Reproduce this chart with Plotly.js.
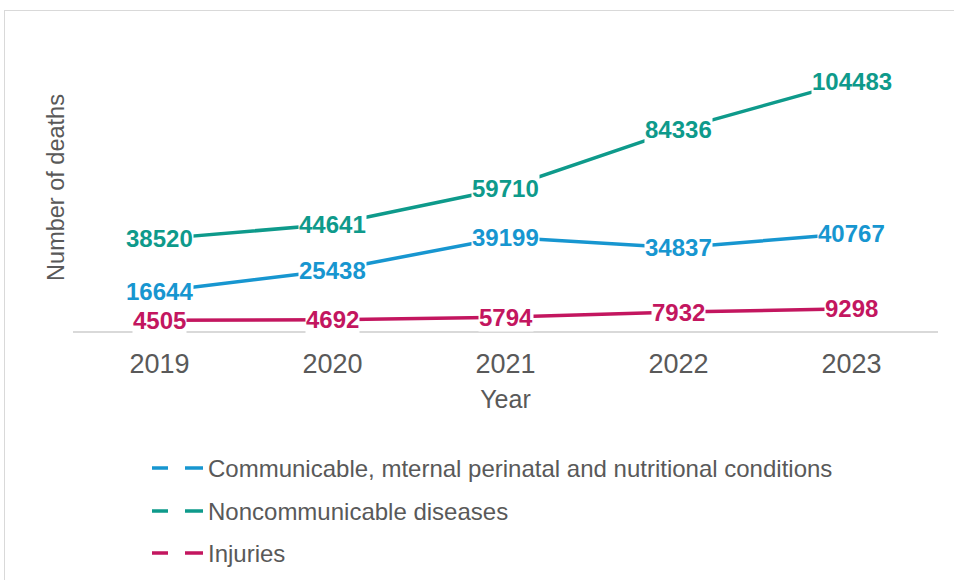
<!DOCTYPE html>
<html>
<head>
<meta charset="utf-8">
<script src="https://cdn.plot.ly/plotly-3.0.1.min.js"></script>
<style>
  html, body { margin: 0; padding: 0; background: #ffffff; overflow: hidden; }
  #chart { width: 954px; height: 580px; position: absolute; left: 0; top: 0; }
  #frame { position: absolute; left: 4px; top: 10px; width: 1000px; height: 700px;
           border: 1px solid #d9d9d9; pointer-events: none; }
  #err { position: absolute; left: 10px; top: 20px; color: red; font-size: 12px; }
</style>
</head>
<body>
<div id="chart"></div>
<div id="frame"></div>
<div id="err"></div>
<script>
// ---- data ----
const years = ['2019', '2020', '2021', '2022', '2023'];
const communicable = [16644, 25438, 39199, 34837, 40767];
const noncommunicable = [38520, 44641, 59710, 84336, 104483];
const injuries = [4505, 4692, 5794, 7932, 9298];
const seriesNames = [
  'Communicable, mternal perinatal and nutritional conditions',
  'Noncommunicable diseases',
  'Injuries'
];

// ---- styling ----
const seriesValues = [communicable, noncommunicable, injuries];
const colors = ['#1796d0', '#0e9a8b', '#c3165f'];
const font = 'Liberation Sans, Arial, sans-serif';
const grey = '#595959';
const legendKeys = ['legend', 'legend2', 'legend3'];
const legendCenters = [467, 510, 552];

try {
const traces = [];
const notes = [];
seriesValues.forEach((vals, i) => {
  traces.push({
    x: years, y: vals, type: 'scatter', mode: 'lines',
    line: { color: colors[i], width: 3.5 },
    showlegend: false, hoverinfo: 'skip'
  });
  vals.forEach((v, j) => {
    notes.push({
      x: j, y: v, xref: 'x', yref: 'y', text: '<b>' + v + '</b>',
      showarrow: false, bgcolor: '#ffffff', borderpad: 0,
      font: { family: font, size: 24, color: colors[i] }
    });
  });
});
// legend entries (dashed symbol)
seriesValues.forEach((vals, i) => {
  traces.push({
    x: [null], y: [null], type: 'scatter', mode: 'lines', name: seriesNames[i],
    legend: legendKeys[i],
    line: { color: colors[i], width: 3.5, dash: '16px,17px,20px,60px' },
    showlegend: true
  });
});

const layout = {
  width: 954, height: 580,
  margin: { l: 73, r: 16, t: 44, b: 249, autoexpand: false },
  paper_bgcolor: 'rgba(0,0,0,0)', plot_bgcolor: 'rgba(0,0,0,0)',
  font: { family: font, color: grey },
  xaxis: {
    type: 'category', range: [-0.5, 4.5],
    showline: true, linecolor: '#d9d9d9', linewidth: 1.5,
    showgrid: false, zeroline: false, ticks: '',
    ticklabelstandoff: 8,
    tickfont: { size: 27, color: grey, family: font },
    title: { text: 'Year', font: { size: 25, color: grey, family: font }, standoff: 12 }
  },
  yaxis: {
    range: [0, 120000],
    showline: false, showgrid: false, zeroline: false, showticklabels: false, ticks: '',
    title: { text: 'Number of deaths', font: { size: 23.5, color: grey, family: font }, standoff: 0 }
  },
  showlegend: true,
  annotations: notes
};
legendKeys.forEach((k, i) => {
  layout[k] = {
    x: (147 - 73) / 865, xanchor: 'left',
    y: (331 - (legendCenters[i] - 21)) / 287, yanchor: 'top',
    orientation: 'v', itemwidth: 51,
    font: { size: 24, color: grey, family: font },
    bgcolor: 'rgba(0,0,0,0)'
  };
});

Plotly.newPlot('chart', traces, layout, { displayModeBar: false, staticPlot: true })
  .catch(e => { document.getElementById('err').textContent = String(e); });
} catch (e) { document.getElementById('err').textContent = String(e); }
</script>
</body>
</html>
